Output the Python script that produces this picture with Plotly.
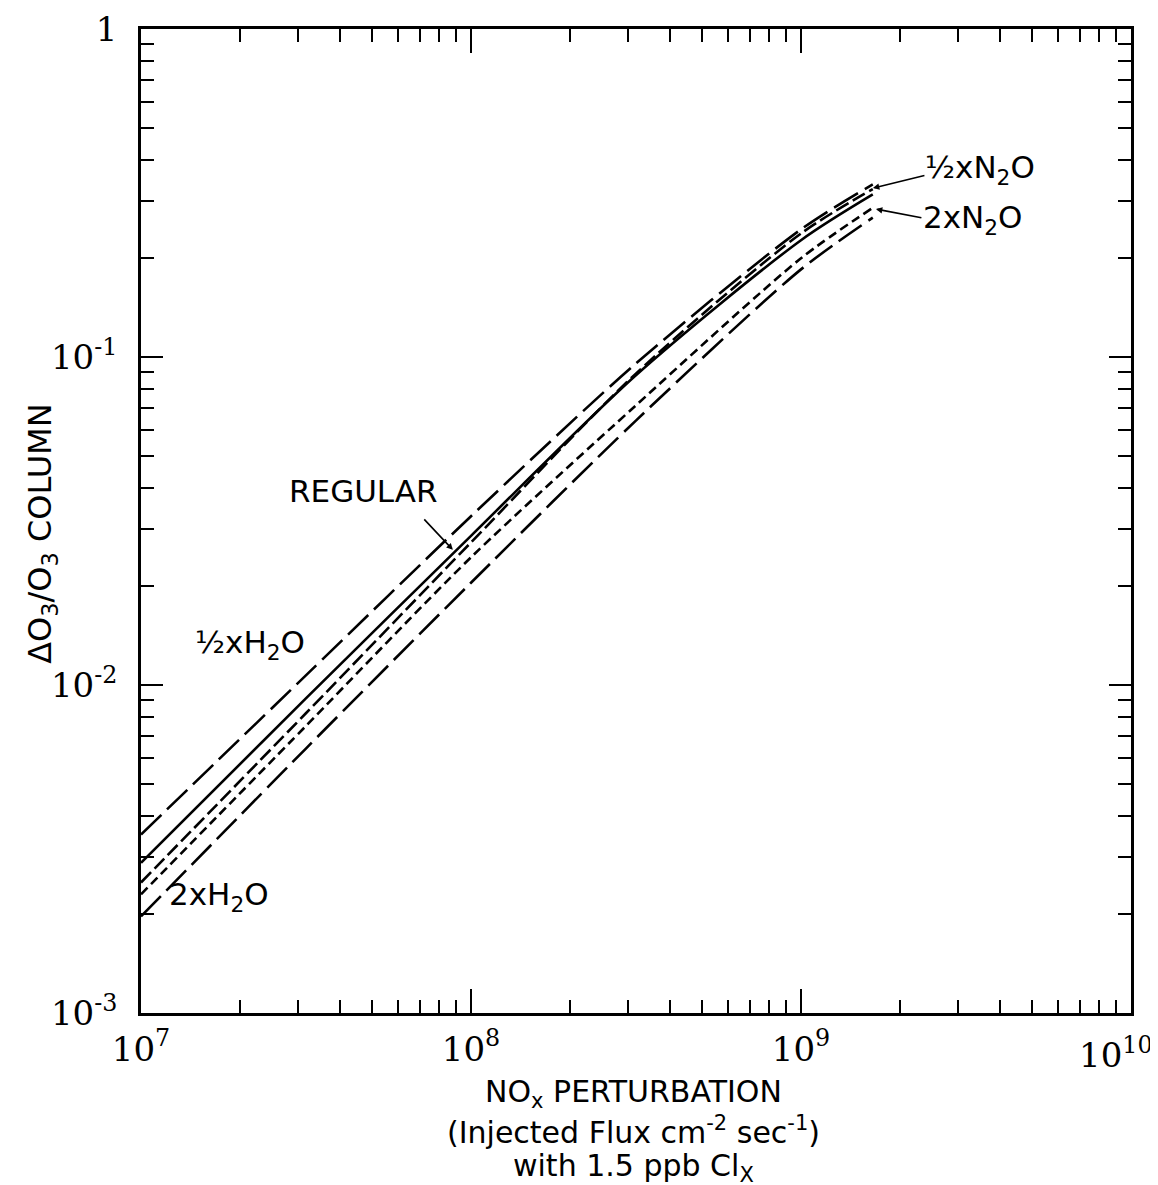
import plotly.graph_objects as go

# NOx perturbation (injected flux, cm^-2 s^-1)
flux = [1e7, 3.16e7, 1e8, 3.16e8, 1e9, 1.65e9]

# dO3/O3 column for each case
half_h2o = [0.0035, 0.0107, 0.0327, 0.0955, 0.245, 0.336]
regular = [0.00287, 0.0091, 0.0285, 0.088, 0.227, 0.313]
half_n2o = [0.0025, 0.0082, 0.0272, 0.089, 0.238, 0.325]
two_n2o = [0.0023, 0.0075, 0.0245, 0.0712, 0.20, 0.285]
two_h2o = [0.00197, 0.0064, 0.0205, 0.064, 0.185, 0.266]

series = [
    ("½xH2O", half_h2o, "28px,8px"),
    ("REGULAR", regular, "solid"),
    ("½xN2O", half_n2o, "14px,5px"),
    ("2xN2O", two_n2o, "9px,5px"),
    ("2xH2O", two_h2o, "28px,8px"),
]

x_tickvals = [1e7, 1e8, 1e9, 1e10]
x_ticktext = ["10<sup>7</sup>", "10<sup>8</sup>", "10<sup>9</sup>", ""]
x_last_label = "10<sup>10</sup>"
y_tickvals = [1e-3, 1e-2, 1e-1, 1]
y_ticktext = ["10<sup>-3</sup>", "10<sup>-2</sup>", "10<sup>-1</sup>", "1"]

x_title_lines = [
    "NO<sub>x</sub> PERTURBATION",
    "(Injected Flux cm<sup>-2</sup> sec<sup>-1</sup>)",
    "with 1.5 ppb Cl<sub>X</sub>",
]
y_title = "ΔO<sub>3</sub>/O<sub>3</sub> COLUMN"

x_minor = [m * 10 ** e for e in range(7, 10) for m in range(2, 10)]
y_minor = [m * 10 ** e for e in range(-3, 0) for m in range(2, 10)]

fig = go.Figure()
for name, vals, dash in series:
    fig.add_trace(go.Scatter(
        x=flux, y=vals, mode="lines", name=name,
        line=dict(color="black", width=2.6, dash=dash, shape="spline", smoothing=0.8),
        showlegend=False,
    ))

tickfont = dict(family="DejaVu Serif, serif", size=34, color="black")
axis_common = dict(
    type="log", showgrid=False, zeroline=False, showline=True, linewidth=2.5,
    linecolor="black", mirror="allticks", ticks="inside", tickwidth=2,
    tickcolor="black", tickfont=tickfont, automargin=False,
)

fig.update_xaxes(
    **axis_common, range=[7, 10], tickmode="array", tickvals=x_tickvals,
    ticktext=x_ticktext, ticklen=24, ticklabelstandoff=4,
    minor=dict(tickmode="array", tickvals=x_minor, ticks="inside", ticklen=13,
               tickwidth=2, tickcolor="black", showgrid=False),
)
fig.update_yaxes(
    **axis_common, range=[-3, 0], tickmode="array", tickvals=y_tickvals,
    ticktext=y_ticktext, ticklen=22, ticklabelstandoff=14,
    minor=dict(tickmode="array", tickvals=y_minor, ticks="inside", ticklen=13,
               tickwidth=2, tickcolor="black", showgrid=False),
)

sans = "DejaVu Sans, Liberation Sans, sans-serif"
lab = dict(family=sans, size=31, color="black")
ann = []
for i, line in enumerate(x_title_lines):
    ann.append(dict(x=0.497, y=0, xref="paper", yref="paper", xanchor="center",
                    yanchor="middle", yshift=-(80 + 37 * i), text=line, showarrow=False,
                    font=dict(family=sans, size=30, color="black")))
ann.append(dict(x=10, y=0, xref="x", yref="paper", xanchor="right", yanchor="middle",
                xshift=24, yshift=-40, text=x_last_label, showarrow=False, font=tickfont))
ann.append(dict(x=-0.1, y=0.487, xref="paper", yref="paper", textangle=-90,
                xanchor="center", yanchor="middle",
                text=y_title, showarrow=False,
                font=dict(family=sans, size=32, color="black")))
# REGULAR arrow
ann.append(dict(x=7.945, y=-1.588, ax=-30, ay=-32, xref="x", yref="y", text="",
                showarrow=True, arrowhead=2, arrowsize=0.8, arrowwidth=1.6, arrowcolor="black"))
ann.append(dict(x=7.675, y=-1.41, xref="x", yref="y", xanchor="center", yanchor="middle",
                text="REGULAR", showarrow=False, font=lab))
ann.append(dict(x=7.33, y=-1.875, xref="x", yref="y", xanchor="center", yanchor="middle",
                text="½xH<sub>2</sub>O", showarrow=False, font=lab))
ann.append(dict(x=7.235, y=-2.645, xref="x", yref="y", xanchor="center", yanchor="middle",
                text="2xH<sub>2</sub>O", showarrow=False, font=lab))
# N2O arrows
ann.append(dict(x=9.218, y=-0.485, ax=53, ay=-13, xref="x", yref="y", text="",
                showarrow=True, arrowhead=2, arrowsize=0.8, arrowwidth=1.6, arrowcolor="black"))
ann.append(dict(x=9.227, y=-0.549, ax=47, ay=9, xref="x", yref="y", text="",
                showarrow=True, arrowhead=2, arrowsize=0.8, arrowwidth=1.6, arrowcolor="black"))
ann.append(dict(x=9.37, y=-0.428, xref="x", yref="y", xanchor="left", yanchor="middle",
                text="½xN<sub>2</sub>O", showarrow=False, font=lab))
ann.append(dict(x=9.365, y=-0.58, xref="x", yref="y", xanchor="left", yanchor="middle",
                text="2xN<sub>2</sub>O", showarrow=False, font=lab))

fig.update_layout(
    width=1158, height=1185, plot_bgcolor="white", paper_bgcolor="white",
    margin=dict(l=133, r=35, t=21, b=180), annotations=ann,
)

fig.write_html("out.html")
